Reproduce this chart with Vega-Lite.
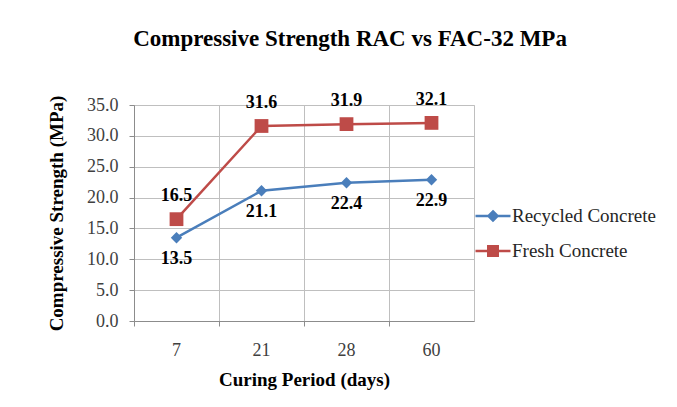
{
  "$schema": "https://vega.github.io/schema/vega-lite/v6.json",
  "autosize": "none",
  "width": 340,
  "height": 216,
  "padding": {"left": 134, "top": 105, "right": 203, "bottom": 86},
  "background": "white",
  "config": {
    "font": "Liberation Serif",
    "view": {"stroke": "#bfbfbf", "strokeWidth": 1},
    "legend": {"labelFont": "Liberation Serif"}
  },
  "title": {
    "text": "Compressive Strength RAC vs FAC-32 MPa",
    "font": "Liberation Serif",
    "fontSize": 23,
    "fontWeight": "bold",
    "color": "#000000",
    "anchor": "middle",
    "frame": "group",
    "dx": 46,
    "offset": 40
  },
  "data": {
    "values": [
      {"day": "7", "series": "Recycled Concrete", "value": 13.5},
      {"day": "21", "series": "Recycled Concrete", "value": 21.1},
      {"day": "28", "series": "Recycled Concrete", "value": 22.4},
      {"day": "60", "series": "Recycled Concrete", "value": 22.9},
      {"day": "7", "series": "Fresh Concrete", "value": 16.5},
      {"day": "21", "series": "Fresh Concrete", "value": 31.6},
      {"day": "28", "series": "Fresh Concrete", "value": 31.9},
      {"day": "60", "series": "Fresh Concrete", "value": 32.1}
    ]
  },
  "encoding": {
    "x": {
      "field": "day",
      "type": "nominal",
      "sort": ["7", "21", "28", "60"],
      "scale": {"type": "band", "paddingInner": 0, "paddingOuter": 0},
      "axis": {
        "title": "Curing Period (days)",
        "titleFont": "Liberation Serif",
        "titleFontSize": 19,
        "titleFontWeight": "bold",
        "titleColor": "#000000",
        "titlePadding": 11,
        "labelAngle": 0,
        "labelFont": "Liberation Serif",
        "labelFontSize": 18,
        "labelColor": "#404040",
        "labelPadding": 15,
        "bandPosition": 0,
        "grid": true,
        "gridColor": "#bfbfbf",
        "domain": true,
        "domainColor": "#8c8c8c",
        "ticks": true,
        "tickColor": "#8c8c8c",
        "tickSize": 5
      }
    },
    "y": {
      "field": "value",
      "type": "quantitative",
      "scale": {"domain": [0, 35], "nice": false, "zero": true},
      "axis": {
        "title": "Compressive Strength (MPa)",
        "titleFont": "Liberation Serif",
        "titleFontSize": 19,
        "titleFontWeight": "bold",
        "titleColor": "#000000",
        "titlePadding": 20,
        "values": [0, 5, 10, 15, 20, 25, 30, 35],
        "format": ".1f",
        "labelFont": "Liberation Serif",
        "labelFontSize": 18,
        "labelColor": "#404040",
        "labelPadding": 11,
        "grid": true,
        "gridColor": "#bfbfbf",
        "domain": true,
        "domainColor": "#8c8c8c",
        "ticks": true,
        "tickColor": "#8c8c8c",
        "tickSize": 5
      }
    },
    "color": {
      "field": "series",
      "type": "nominal",
      "scale": {"domain": ["Recycled Concrete", "Fresh Concrete"], "range": ["#4A7EBB", "#BE4B48"]},
      "legend": {
        "title": null,
        "orient": "none",
        "legendX": 340,
        "legendY": 92,
        "labelFont": "Liberation Serif",
        "labelFontSize": 19,
        "labelColor": "#262626",
        "labelOffset": 0,
        "rowPadding": 6,
        "symbolSize": 1225,
        "symbolStrokeWidth": 2.5,
        "symbolType": "M-1,0H1",
        "encode": {
          "labels": {
            "update": {
              "font": {"value": "Liberation Serif"},
              "fontSize": {"value": 19}
            }
          },
          "symbols": {
            "update": {
              "shape": {"signal": "datum.value == 'Recycled Concrete' ? 'M-1,0H1M0,-0.26L0.26,0L0,0.26L-0.26,0Z' : 'M-1,0H1M-0.27,-0.27H0.27V0.27H-0.27Z'"}
            }
          }
        }
      }
    }
  },
  "layer": [
    {
      "mark": {"type": "line", "strokeWidth": 2.5}
    },
    {
      "transform": [{"filter": "datum.series == 'Recycled Concrete'"}],
      "mark": {"type": "point", "filled": true, "opacity": 1, "shape": "diamond", "size": 130}
    },
    {
      "transform": [{"filter": "datum.series == 'Fresh Concrete'"}],
      "mark": {"type": "point", "filled": true, "opacity": 1, "shape": "square", "size": 190}
    },
    {
      "transform": [{"filter": "datum.series == 'Fresh Concrete'"}],
      "mark": {"type": "text", "dy": -23, "font": "Liberation Serif", "fontSize": 18, "fontWeight": "bold", "color": "#000000"},
      "encoding": {"text": {"field": "value", "type": "quantitative", "format": ".1f"}, "color": {"value": "#000000"}}
    },
    {
      "transform": [{"filter": "datum.series == 'Recycled Concrete'"}],
      "mark": {"type": "text", "dy": 21, "font": "Liberation Serif", "fontSize": 18, "fontWeight": "bold", "color": "#000000"},
      "encoding": {"text": {"field": "value", "type": "quantitative", "format": ".1f"}, "color": {"value": "#000000"}}
    }
  ]
}
